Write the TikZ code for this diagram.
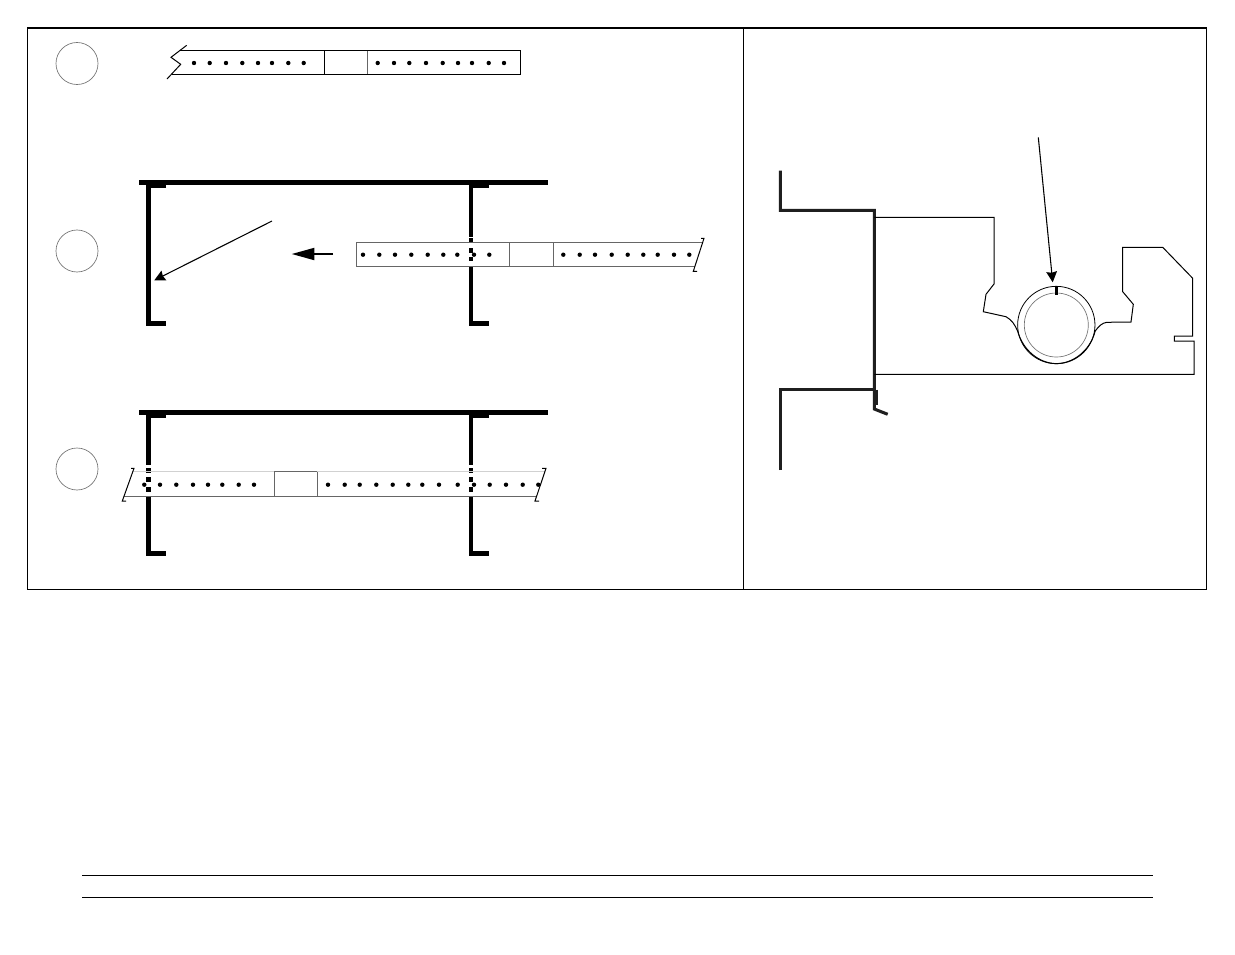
\documentclass[tikz,border=0pt]{standalone}
\usetikzlibrary{arrows.meta}
\tikzset{
    frame_line/.style={line width=1pt, black},
    thin_line/.style={line width=0.75pt, black},
    grey_line/.style={line width=0.7pt, black!60},
    heavy_line/.style={line width=3.4pt, black},
    wall_line/.style={line width=2.3pt, black!88},
    mark_circle/.style={circle, draw=black!55, line width=0.5pt, minimum size=31.5pt, inner sep=0pt},
    small_arrow/.style={line width=0.8pt, -{Stealth[length=8pt,width=8pt,inset=0.8pt]}},
    big_arrow/.style={line width=1.4pt, -{Stealth[length=17pt,width=9pt,inset=0pt]}}
}
\begin{document}
\begin{tikzpicture}[x=0.75pt, y=-0.75pt]
    \useasboundingbox (0,0) rectangle (1235,954);
    \draw[frame_line] (27.8,28) rectangle (1206.6,589.4);
    \draw[thin_line] (743,28) -- (743,589);
    \draw[thin_line] (82,875.8) -- (1153,875.8);
    \draw[thin_line] (82,897.2) -- (1153,897.2);
    \node[mark_circle] (mark_a) at (77,63.5) {};
    \node[mark_circle] (mark_b) at (77,251) {};
    \node[mark_circle] (mark_c) at (77,469) {};
    % strip alone
    \draw[thin_line] (186.7,45.3) -- (171,57.3) -- (180.7,64.3) -- (167,79);
    \draw[thin_line] (180,50.5) -- (520.5,50.5) -- (520.5,74) -- (171.7,74);
    \draw[thin_line] (324.7,50.5) -- (324.7,74);
    \draw[grey_line] (367.5,50.5) -- (367.5,74);
    \foreach \x in {194,209.7,226,242.3,258,272,288.3,303.7,377.7,394,409.3,426,442.7,458,472,488.7,504}
        \fill (\x,63) circle[radius=2.2];
    % strip entering the beam
    \draw[heavy_line] (139,182.5) -- (548,182.5);
    \draw[heavy_line] (166,186) -- (148.6,186) -- (148.6,323.5) -- (166,323.5);
    \draw[heavy_line] (489,186) -- (471,186) -- (471,236.7);
    \draw[heavy_line] (471,238.3) -- (471,241.7);
    \draw[heavy_line] (471,248.3) -- (471,252.7);
    \draw[heavy_line] (471,256.7) -- (471,260.7);
    \draw[heavy_line] (471,266.7) -- (471,323.5) -- (489,323.5);
    \draw[grey_line] (702,242.5) -- (356.7,242.5) -- (356.7,266.5) -- (695,266.5);
    \draw[grey_line] (509.7,242.5) -- (509.7,266.5);
    \draw[grey_line] (553,242.5) -- (553,266.5);
    \draw[thin_line] (701,238.3) -- (704,238.3) -- (693.3,271.3) -- (697,271.3);
    \foreach \x in {363,379.3,395,411.3,427.7,443.3,457.3,474,489.3,563.3,579.7,595,611.7,627.7,643.3,657.7,674,689.3}
        \fill (\x,254.7) circle[radius=2.2];
    \coordinate (lead_start) at (272,221);
    \coordinate (lead_end) at (154.3,280.3);
    \coordinate (move_start) at (333,254);
    \coordinate (move_end) at (291.7,254);
    \draw[small_arrow] (lead_start) -- (lead_end);
    \draw[big_arrow] (move_start) -- (move_end);
    % strip through the beam
    \draw[heavy_line] (139,412.3) -- (548,412.3);
    \foreach \x/\y in {148.6/165.7,471/489}{
        \draw[heavy_line] (\y,415.5) -- (\x,415.5) -- (\x,465);
        \draw[heavy_line] (\x,468.3) -- (\x,472.7);
        \draw[heavy_line] (\x,477.3) -- (\x,481.7);
        \draw[heavy_line] (\x,487.3) -- (\x,491.7);
        \draw[heavy_line] (\x,496.7) -- (\x,553.5) -- (\y,553.5);
    }
    \draw[line width=1pt, black!18] (133,471.7) -- (544.5,471.7);
    \draw[grey_line] (124,496.3) -- (537,496.3);
    \draw[grey_line] (274.3,471.7) -- (274.3,496.3);
    \draw[grey_line] (317.3,471.7) -- (317.3,496.3);
    \draw[grey_line] (274.3,471.7) -- (317.3,471.7);
    \draw[thin_line] (131,468.3) -- (134,468.3) -- (122.3,501) -- (126,501);
    \draw[thin_line] (542,468.3) -- (546,468.3) -- (535,501) -- (539,501);
    \foreach \x in {144.3,160,176.3,193,208,222.3,238.7,254,328,344.7,359.7,376.3,392.7,408.3,422.3,439,457.7,474,489.7,506,522.7,538.3}
        \fill (\x,484.7) circle[radius=2.2];
    % section
    \draw[wall_line] (780.3,170.7) -- (780.3,210.3) -- (874.3,210.3) -- (874.3,409) -- (887.7,414.3);
    \draw[wall_line] (780.3,470) -- (780.3,389.7) -- (875,389.7);
    \draw[wall_line] (876,389.7) -- (876,405);
    \draw[thin_line] (874.3,217.3) -- (994,217.3) -- (994,284) -- (986,294.3) -- (983.3,311.7) -- (1006,316.7)
        .. controls (1012,320) and (1015,325) .. (1017.6,331)
        .. controls (1023,351) and (1040,363.6) .. (1056.3,363.6)
        .. controls (1073,363.6) and (1090,351) .. (1095.2,331)
        .. controls (1099,326) and (1102,323) .. (1106.7,322.3)
        -- (1131,322) -- (1133.3,304.3) -- (1122.7,291.7) -- (1122.7,247.3) -- (1162.7,247.3) -- (1192.7,278.3)
        -- (1192.7,336) -- (1174.3,336) -- (1174.3,341) -- (1194,341) -- (1194,374.3) -- (874.3,374.3);
    \node[circle, draw=black, line width=0.6pt, minimum size=58pt, inner sep=0pt] (pipe_outer) at (1056.3,325) {};
    \node[circle, draw=black!55, line width=0.5pt, minimum size=48pt, inner sep=0pt] (pipe_inner) at (1056.3,325) {};
    \draw[line width=2.2pt] (1056.3,286.7) -- (1056.3,294.7);
    \coordinate (slot_start) at (1038.3,137.3);
    \coordinate (slot_end) at (1052.7,282.3);
    \draw[small_arrow] (slot_start) -- (slot_end);
\end{tikzpicture}
\end{document}
